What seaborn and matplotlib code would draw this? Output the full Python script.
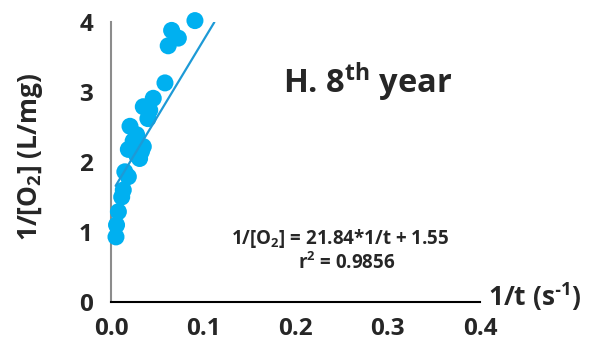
import matplotlib
matplotlib.use("Agg")
import matplotlib.pyplot as plt
import seaborn as sns
import numpy as np
import pandas as pd

inv_t = [0.091, 0.0657, 0.073, 0.062, 0.0585, 0.0458, 0.035, 0.042, 0.040, 0.0206,
         0.0278, 0.035, 0.0188, 0.0278, 0.031, 0.015, 0.0188, 0.0133, 0.0116, 0.008,
         0.006, 0.0054, 0.033, 0.024]
inv_o2 = [4.02, 3.88, 3.77, 3.66, 3.13, 2.91, 2.79, 2.74, 2.62, 2.51,
          2.39, 2.22, 2.18, 2.10, 2.05, 1.86, 1.79, 1.60, 1.50, 1.29,
          1.10, 0.93, 2.15, 2.30]
slope, intercept = 21.84, 1.55
fit_x = [0.005, 0.112]
xticks = [0.0, 0.1, 0.2, 0.3, 0.4]
yticks = [0, 1, 2, 3, 4]

sns.set_style("white")
FONT = 'Open Sans'
plt.rcParams['font.family'] = [FONT, 'DejaVu Sans']
plt.rcParams['font.weight'] = 'bold'
plt.rcParams['mathtext.fontset'] = 'custom'
plt.rcParams['mathtext.rm'] = FONT + ':bold'
plt.rcParams['mathtext.it'] = FONT + ':bold'
plt.rcParams['mathtext.bf'] = FONT + ':bold'

df = pd.DataFrame({"x": inv_t, "y": inv_o2})
fit = pd.DataFrame({"x": fit_x, "y": [slope * v + intercept for v in fit_x]})

fig = plt.figure(figsize=(5.96, 3.51), dpi=100)
ax = fig.add_axes([111/596, 1-302/351, (480-111)/596, (302-22)/351])
sns.scatterplot(data=df, x="x", y="y", ax=ax, color="#00B0F0", s=150,
                edgecolor="none", zorder=3, clip_on=False)
sns.lineplot(data=fit, x="x", y="y", ax=ax, color="#1D9AD6", lw=1.6, zorder=4)

ax.set_xlim(0, 0.4)
ax.set_ylim(0, 4)
ax.set_xticks(xticks)
ax.set_xticklabels([f"{v:.1f}" for v in xticks])
ax.set_yticks(yticks)
ax.set_yticklabels([str(v) for v in yticks])
ax.set_xlabel("")
ax.set_ylabel("")
for s in ["top", "right"]:
    ax.spines[s].set_visible(False)
ax.spines["left"].set_color("#8c8c8c")
ax.spines["left"].set_linewidth(1.5)
ax.spines["bottom"].set_color("black")
ax.spines["bottom"].set_linewidth(1.5)
ax.tick_params(axis="y", direction="out", length=7, color="#8c8c8c", width=1.2,
               labelsize=17.5, pad=6)
ax.tick_params(axis="x", direction="out", length=10, color="black", width=1.2,
               labelsize=17.5, pad=1)
for lab in ax.get_xticklabels() + ax.get_yticklabels():
    lab.set_fontweight('bold')

fig.text(31/596, 1-157/351, "1/[O$_{2}$] (L/mg)", fontsize=19, fontweight='bold',
         ha="center", va="center", rotation=90)
fig.text(488/596, 1-297/351, "1/t (s$^{\u2010 1}$)", fontsize=19, fontweight='bold',
         ha="left", va="center")
fig.text(368/596, 1-82/351, "H. 8$^{th}$ year", fontsize=23.5, fontweight='bold',
         ha="center", va="center")
fig.text(340/596, 1-238/351, "1/[O$_{2}$] = 21.84*1/t + 1.55", fontsize=13.5,
         fontweight='bold', ha="center", va="center")
fig.text(347/596, 1-263/351, "r$^{2}$ = 0.9856", fontsize=13.5,
         fontweight='bold', ha="center", va="center")

fig.savefig("out.png", dpi=100)
